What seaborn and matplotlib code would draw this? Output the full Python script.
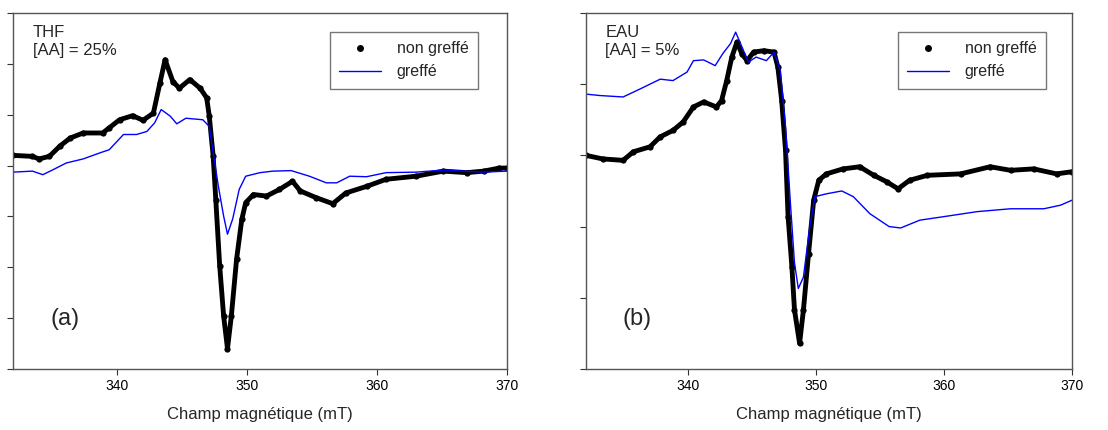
import matplotlib
matplotlib.use("Agg")
import matplotlib.pyplot as plt
from matplotlib.lines import Line2D
import seaborn as sns
import pandas as pd

# panel (a) THF, [AA] = 25%
thf_x_non = [332, 333.5, 334, 334.8, 335.6, 336.4, 337.4, 338.9, 339.4, 340.2, 341.2, 342, 342.8,
             343.3, 343.7, 344.3, 344.8, 345.6, 346.4, 346.9, 347.1, 347.4, 347.6, 347.9, 348.2,
             348.5, 348.8, 349.2, 349.6, 349.9, 350.5, 351.5, 352.5, 353.5, 354.1, 355.3, 356.6,
             357.6, 359.2, 360.7, 363, 365.1, 366.9, 368.2, 369.4, 370]
thf_y_non = [0.2, 0.18, 0.13, 0.18, 0.38, 0.54, 0.64, 0.64, 0.74, 0.9, 0.98, 0.89, 1.03,
             1.62, 2.08, 1.65, 1.52, 1.69, 1.52, 1.33, 0.97, 0.18, -0.67, -1.97, -2.95,
             -3.6, -2.95, -1.84, -1.06, -0.73, -0.57, -0.6, -0.47, -0.31, -0.5, -0.63, -0.75,
             -0.54, -0.41, -0.27, -0.21, -0.11, -0.14, -0.11, -0.05, -0.05]
thf_x_gr = [332, 333.5, 334.3, 335.1, 336.1, 337.4, 338.7, 339.4, 340.5, 341.5, 342.3, 342.9, 343.4,
            344.1, 344.6, 345.3, 346.6, 347.1, 347.4, 347.8, 348.2, 348.5, 348.9, 349.4, 349.9,
            351, 352, 353.4, 354.8, 356.1, 356.9, 357.9, 359.2, 360.7, 363, 365.1, 368.2, 370]
thf_y_gr = [-0.13, -0.11, -0.18, -0.08, 0.05, 0.13, 0.25, 0.31, 0.61, 0.61, 0.67, 0.84, 1.1,
            0.97, 0.82, 0.93, 0.9, 0.77, 0.25, -0.41, -0.99, -1.35, -1.05, -0.47, -0.21,
            -0.14, -0.11, -0.1, -0.21, -0.34, -0.34, -0.21, -0.22, -0.14, -0.13, -0.09, -0.13, -0.11]

# panel (b) EAU, [AA] = 5%
eau_x_non = [332, 333.3, 334.9, 335.7, 337, 337.8, 338.8, 339.6, 340.4, 341.2, 342.2, 342.6, 343,
             343.4, 343.8, 344.2, 344.6, 345.1, 345.9, 346.7, 347, 347.3, 347.6, 347.8, 348.1,
             348.3, 348.7, 349, 349.4, 349.8, 350.2, 350.8, 352.1, 353.4, 354.5, 355.5, 356.4,
             357.3, 358.7, 361.3, 363.6, 365.2, 367, 368.8, 370]
eau_y_non = [0, -0.05, -0.07, 0.05, 0.12, 0.26, 0.35, 0.47, 0.68, 0.75, 0.68, 0.77, 1.05,
             1.38, 1.59, 1.42, 1.33, 1.45, 1.47, 1.45, 1.24, 0.77, 0.07, -0.86, -1.57,
             -2.17, -2.64, -2.17, -1.38, -0.63, -0.35, -0.26, -0.19, -0.16, -0.28, -0.37, -0.47,
             -0.35, -0.28, -0.26, -0.16, -0.21, -0.19, -0.26, -0.23]
eau_x_gr = [332, 333.1, 334.9, 336.2, 337.8, 338.8, 339.9, 340.4, 341.2, 342.1, 342.7, 343.3, 343.7,
            344.2, 344.7, 345.3, 346.1, 346.7, 347.2, 347.6, 348, 348.3, 348.6, 349, 349.5,
            349.9, 350.8, 352, 352.9, 354.2, 355.7, 356.6, 358.1, 360, 362.6, 365.2, 367.8, 369.1, 370]
eau_y_gr = [0.86, 0.84, 0.82, 0.93, 1.07, 1.05, 1.17, 1.33, 1.34, 1.26, 1.43, 1.57, 1.73,
            1.52, 1.31, 1.38, 1.33, 1.45, 1.19, 0.4, -0.72, -1.51, -1.87, -1.71, -1.0,
            -0.58, -0.54, -0.5, -0.58, -0.82, -1.0, -1.02, -0.91, -0.86, -0.79, -0.75, -0.75, -0.7, -0.63]

sns.set_style("white")
plt.rcParams['font.family'] = ['Liberation Sans', 'DejaVu Sans']

fig = plt.figure(figsize=(11.08, 4.3), dpi=100)
ax_a = fig.add_axes([0.0117, 0.1419, 0.4459, 0.828])
ax_b = fig.add_axes([0.5289, 0.1419, 0.4386, 0.828])

panels = [
    (ax_a, thf_x_non, thf_y_non, thf_x_gr, thf_y_gr, "THF\n[AA] = 25%", "(a)", (-4, 3)),
    (ax_b, eau_x_non, eau_y_non, eau_x_gr, eau_y_gr, "EAU\n[AA] = 5%", "(b)", (-3, 2)),
]

for ax, xn, yn, xg, yg, label, letter, ylim in panels:
    df_n = pd.DataFrame({'B': xn, 'S': yn})
    df_g = pd.DataFrame({'B': xg, 'S': yg})
    sns.lineplot(data=df_n, x='B', y='S', ax=ax, color='black', lw=3.5, sort=False,
                 marker='o', markersize=4.5, markeredgewidth=0)
    sns.lineplot(data=df_g, x='B', y='S', ax=ax, color='#0000ff', lw=1, sort=False)
    ax.set_xlim(332, 370)
    ax.set_ylim(*ylim)
    ax.set_xticks([340, 350, 360, 370])
    ax.set_yticks(range(ylim[0], ylim[1] + 1))
    ax.set_yticklabels([])
    ax.tick_params(axis='both', direction='out', length=4, width=0.8, colors='#333333',
                   labelsize=10, left=True, bottom=True)
    ax.tick_params(axis='x', labelcolor='black')
    for s in ax.spines.values():
        s.set_color('#555555')
        s.set_linewidth(1)
    ax.set_xlabel('Champ magnétique (mT)', fontsize=12, labelpad=10)
    ax.set_ylabel('')
    ax.text(0.04, 0.965, label, transform=ax.transAxes, fontsize=12, va='top', ha='left',
            linespacing=1.25)
    ax.text(0.075, 0.14, letter, transform=ax.transAxes, fontsize=17, va='center', ha='left')
    handles = [Line2D([], [], color='black', marker='o', linestyle='none', markersize=4),
               Line2D([], [], color='#0000ff', lw=1)]
    leg = ax.legend(handles, ['non greffé', 'greffé'], loc='upper left',
                    bbox_to_anchor=(0.625, 0.97), frameon=True, fancybox=False,
                    fontsize=11.5, handlelength=2.6, handletextpad=1.0, borderpad=0.6,
                    labelspacing=0.5)
    leg.get_frame().set_edgecolor('#555555')
    leg.get_frame().set_linewidth(1)

fig.savefig('out.png', dpi=100)
